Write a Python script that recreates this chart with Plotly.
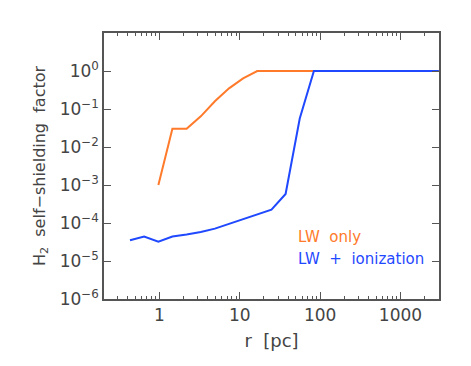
import plotly.graph_objects as go

# radius grid (pc) and self-shielding factors
r_lw = [0.97, 1.45, 2.18, 3.27, 4.9, 7.35, 11.0, 16.5, 24.8, 37.2, 55.8, 83.7, 3000]
f_lw = [1e-3, 0.03, 0.03, 0.064, 0.16, 0.35, 0.64, 1.0, 1.0, 1.0, 1.0, 1.0, 1.0]

r_ion = [0.43, 0.645, 0.97, 1.45, 2.18, 3.27, 4.9, 7.35, 11.0, 16.5, 24.8, 37.2, 55.8, 83.7, 3000]
f_ion = [3.5e-5, 4.4e-5, 3.2e-5, 4.4e-5, 5.0e-5, 5.8e-5, 7.1e-5, 9.5e-5, 1.25e-4,
         1.7e-4, 2.25e-4, 5.8e-4, 0.056, 1.0, 1.0]

y_tickvals = [1, 1e-1, 1e-2, 1e-3, 1e-4, 1e-5, 1e-6]
y_ticktext = ["10<sup>0</sup>", "10<sup>−1</sup>", "10<sup>−2</sup>", "10<sup>−3</sup>",
              "10<sup>−4</sup>", "10<sup>−5</sup>", "10<sup>−6</sup>"]
x_tickvals = [1, 10, 100, 1000]
x_ticktext = ["1", "10", "100", "1000"]

ORANGE = "#ff7a2a"
BLUE = "#1f48ff"
TEXT = "#444"
FONT = "DejaVu Sans"

fig = go.Figure()
fig.add_trace(go.Scatter(x=r_lw, y=f_lw, mode="lines", name="LW only",
                         line=dict(color=ORANGE, width=2)))
fig.add_trace(go.Scatter(x=r_ion, y=f_ion, mode="lines", name="LW + ionization",
                         line=dict(color=BLUE, width=2)))

fig.add_annotation(x=0.572, y=0.191, xref="paper", yref="paper", xanchor="left",
                   text="LW  only", showarrow=False,
                   font=dict(color=ORANGE, size=15, family=FONT))
fig.add_annotation(x=0.572, y=0.109, xref="paper", yref="paper", xanchor="left",
                   text="LW  +  ionization", showarrow=False,
                   font=dict(color=BLUE, size=15, family=FONT))

axis_common = dict(showgrid=False, zeroline=False, showline=True, linecolor="#555",
                   linewidth=1.5, mirror="allticks", ticks="inside", tickcolor="#555",
                   automargin=False,
                   tickfont=dict(size=17, color=TEXT, family=FONT))

fig.update_xaxes(type="log", range=[-0.69, 3.48], tickvals=x_tickvals,
                 ticktext=x_ticktext, ticklen=7, tickwidth=1,
                 minor=dict(ticks="inside", ticklen=3, tickcolor="#555",
                            dtick="D1", showgrid=False),
                 title=dict(text="r  [pc]", font=dict(size=18, color=TEXT, family=FONT),
                            standoff=10),
                 **axis_common)
fig.update_yaxes(type="log", range=[-6, 1], tickvals=y_tickvals,
                 ticktext=y_ticktext, ticklen=7, tickwidth=1,
                 title=dict(text="H<sub>2</sub>  self−shielding  factor",
                            font=dict(size=16, color=TEXT, family=FONT),
                            standoff=10),
                 **axis_common)

# the page body adds an 8px offset, so the figure is sized to fit the window
fig.update_layout(width=463, height=358, template="plotly_white",
                  plot_bgcolor="white", paper_bgcolor="white",
                  showlegend=False,
                  margin=dict(l=96, r=32, t=25, b=67))

fig.write_html("out.html")
